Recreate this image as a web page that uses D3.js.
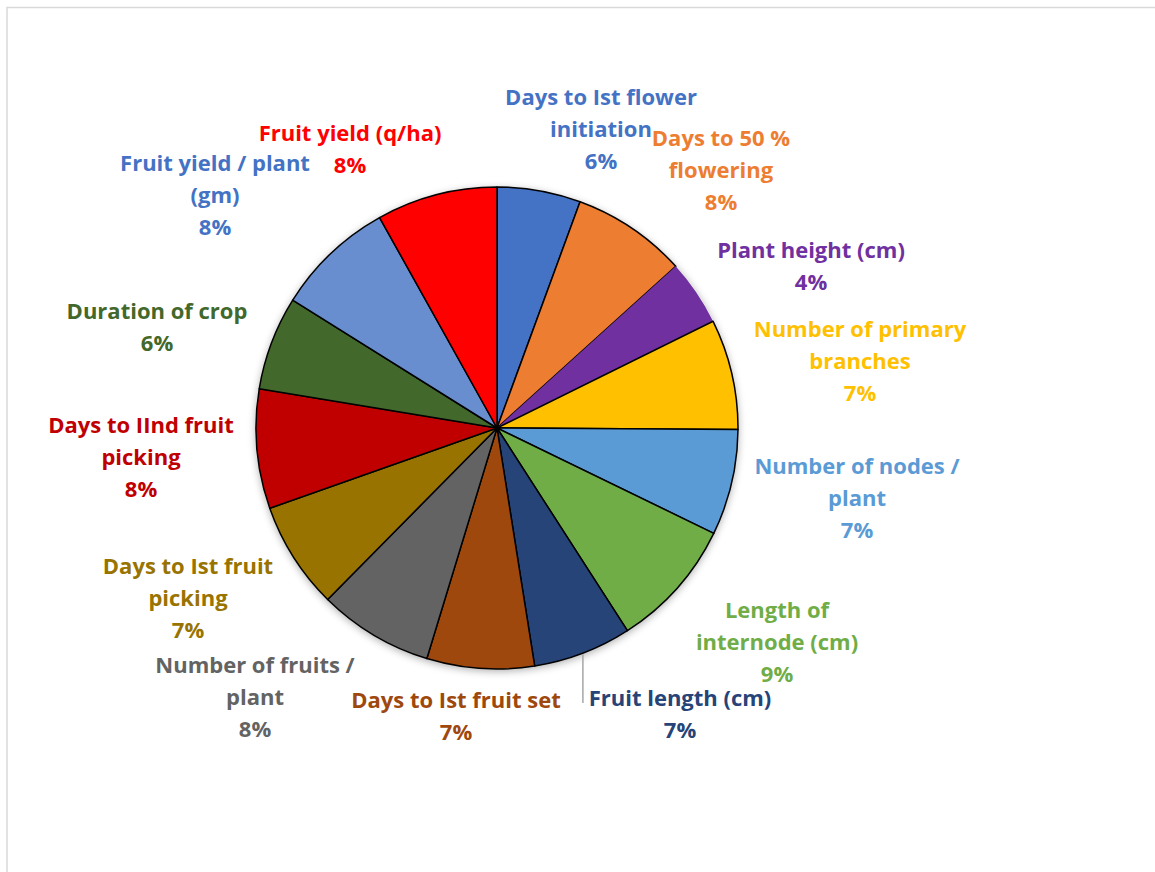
<!DOCTYPE html>
<html>
<head>
<meta charset="utf-8">
<script src="https://cdn.jsdelivr.net/npm/d3@7"></script>
<style>
  html, body { margin: 0; padding: 0; background: #fff; }
  svg { display: block; }
</style>
</head>
<body>
<svg id="chart" width="1155" height="872"></svg>
<script>
// ---- data ----
const categories = [
  "Days to Ist flower initiation",
  "Days to 50 % flowering",
  "Plant height (cm)",
  "Number of primary branches",
  "Number of nodes / plant",
  "Length of internode (cm)",
  "Fruit length (cm)",
  "Days to Ist fruit set",
  "Number of fruits / plant",
  "Days to Ist fruit picking",
  "Days to IInd fruit picking",
  "Duration of crop",
  "Fruit yield / plant (gm)",
  "Fruit yield (q/ha)"
];
const values = [5.6, 7.7, 4.4, 7.4, 7.1, 8.7, 6.6, 7.2, 7.7, 7.2, 8.0, 6.3, 8.0, 8.1];
// how each category label is wrapped (as in the reference)
const labelLines = [
  ["Days to Ist flower", "initiation"],
  ["Days to 50 %", "flowering"],
  ["Plant height (cm)"],
  ["Number of primary", "branches"],
  ["Number of nodes /", "plant"],
  ["Length of", "internode (cm)"],
  ["Fruit length (cm)"],
  ["Days to Ist fruit set"],
  ["Number of fruits /", "plant"],
  ["Days to Ist fruit", "picking"],
  ["Days to IInd fruit", "picking"],
  ["Duration of crop"],
  ["Fruit yield / plant", "(gm)"],
  ["Fruit yield (q/ha)"]
];
const colors = ["#4472C4","#ED7D31","#7030A0","#FFC000","#5B9BD5","#70AD47","#264478",
                "#9E480E","#636363","#997300","#C00000","#43682B","#698ED0","#FF0000"];
const labelColors = ["#4472C4","#ED7D31","#7030A0","#FFC000","#5B9BD5","#70AD47","#264478",
                "#9E480E","#636363","#997300","#C00000","#43682B","#4472C4","#FF0000"];

// ---- layout ----
const W = 1155, H = 872;
const cx = 497, cy = 428, R = 241;
// manual label placement (offset of label block centre / first line, from the pie centre)
const labelOffsets = [
  [104, -331], [224, -290], [314, -178], [363, -99], [360, 38], [280, 182], [183, 270],
  [-41, 272], [-242, 237], [-309, 138], [-356, -3], [-340, -117], [-282, -265], [-147, -295]
];
const lineH = 32.3;

const svg = d3.select("#chart");

// chart frame
svg.append("rect")
  .attr("x", 7).attr("y", 7.5).attr("width", 1300).attr("height", 1000)
  .attr("fill", "#fff").attr("stroke", "#D9D9D9").attr("stroke-width", 1.5);

const defs = svg.append("defs");
const f = defs.append("filter").attr("id", "shadow")
  .attr("x", "-20%").attr("y", "-20%").attr("width", "140%").attr("height", "140%");
f.append("feGaussianBlur").attr("in", "SourceAlpha").attr("stdDeviation", 4).attr("result", "b");
f.append("feOffset").attr("in", "b").attr("dx", 0).attr("dy", 2).attr("result", "o");
f.append("feComponentTransfer").attr("in", "o").attr("result", "s")
  .append("feFuncA").attr("type", "linear").attr("slope", 0.35);
const m = f.append("feMerge");
m.append("feMergeNode").attr("in", "s");
m.append("feMergeNode").attr("in", "SourceGraphic");

const data = categories.map((c, i) => ({ name: c, value: values[i], i }));
const total = d3.sum(values);
const pie = d3.pie().value(d => d.value).sort(null);
const arcs = pie(data);
const arc = d3.arc().innerRadius(0).outerRadius(R);

const g = svg.append("g").attr("transform", `translate(${cx},${cy})`);
// shadow base
g.append("circle").attr("r", R).attr("fill", "#fff").attr("filter", "url(#shadow)");

g.selectAll("path.slice")
  .data(arcs)
  .join("path")
  .attr("class", "slice")
  .attr("d", arc)
  .attr("fill", d => colors[d.data.i])
  .attr("stroke", d => d.data.i === 2 ? "none" : "#000")
  .attr("stroke-width", 1.5)
  .attr("stroke-linejoin", "round");

// leader line for Fruit length (from the slice's mid-angle on the rim)
const flArc = arcs[6];
const la = (flArc.startAngle + flArc.endAngle) / 2;
const lx = Math.sin(la) * R, ly = -Math.cos(la) * R;
g.append("line")
  .attr("x1", lx).attr("y1", ly + 1)
  .attr("x2", lx).attr("y2", labelOffsets[6][1] + 5)
  .attr("stroke", "#A6A6A6").attr("stroke-width", 1.5);

const fmt = d3.format(".0%");
const labels = g.selectAll("text.lbl")
  .data(arcs)
  .join("text")
  .attr("class", "lbl")
  .attr("text-anchor", "middle")
  .attr("font-family", "'Open Sans', Lato, sans-serif")
  .attr("font-weight", "bold")
  .attr("font-size", 22)
  .attr("fill", d => labelColors[d.data.i]);

labels.each(function(d) {
  const t = d3.select(this);
  const [ox, oy] = labelOffsets[d.data.i];
  const lines = labelLines[d.data.i].concat([fmt(d.data.value / total)]);
  lines.forEach((s, k) => {
    t.append("tspan")
      .attr("x", ox)
      .attr("y", oy + k * lineH)
      .attr("dy", "0.35em")
      .text(s);
  });
});
</script>
</body>
</html>
